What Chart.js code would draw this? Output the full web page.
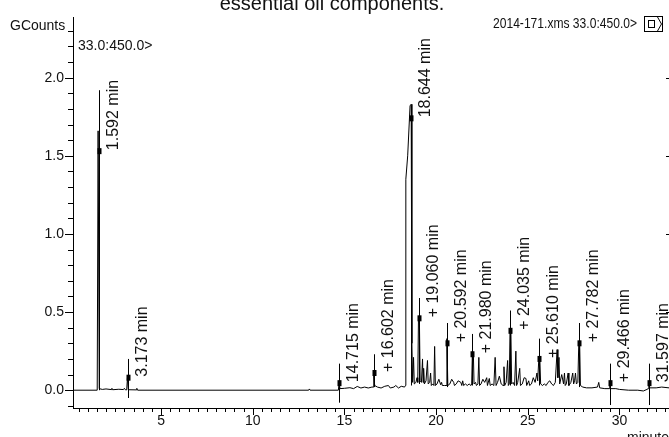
<!DOCTYPE html>
<html>
<head>
<meta charset="utf-8">
<title>essential oil components</title>
<script src="https://cdn.jsdelivr.net/npm/chart.js@4.4.1/dist/chart.umd.min.js"></script>
<style>
  html, body { margin: 0; padding: 0; background: #fff; overflow: hidden; }
  #wrap { position: relative; width: 669px; height: 437px; }
</style>
</head>
<body>
<div id="wrap"><canvas id="chromChart" width="669" height="437"></canvas></div>
<script>
// Retention time (minutes) and signal (GCounts)
const times = [
  0.2, 1.52, 1.57, 1.63, 1.80, 2.00, 2.28, 2.32, 2.36, 2.70, 2.95, 3.00, 3.05,
  3.13, 3.17, 3.22, 3.64, 3.68, 3.72, 13.05, 13.09, 13.13, 14.67, 14.71, 14.76,
  15.0, 15.3, 15.5, 15.7, 15.9, 16.1, 16.3, 16.5, 16.56, 16.60, 16.65, 16.8,
  17.0, 17.2, 17.4, 17.5, 17.7, 17.8, 17.95, 18.1, 18.28, 18.33, 18.35, 18.45,
  18.58, 18.64, 18.68, 18.72, 18.77, 18.81, 18.9, 18.96, 19.0, 19.04, 19.09,
  19.13, 19.2, 19.26, 19.29, 19.32, 19.36, 19.45, 19.53, 19.57, 19.65, 19.70,
  19.74, 19.82, 19.88, 19.92, 19.96, 20.05, 20.15, 20.25, 20.30, 20.34, 20.45,
  20.54, 20.59, 20.64, 20.75, 20.85, 20.96, 21.0, 21.1, 21.2, 21.35, 21.4,
  21.45, 21.5, 21.6, 21.7, 21.8, 21.9, 21.94, 21.98, 22.03, 22.07, 22.15, 22.2,
  22.28, 22.33, 22.37, 22.45, 22.55, 22.65, 22.76, 22.8, 22.9, 22.95, 23.05,
  23.15, 23.22, 23.27, 23.35, 23.45, 23.55, 23.65, 23.70, 23.74, 23.82, 23.90,
  23.94, 23.99, 24.03, 24.08, 24.12, 24.2, 24.28, 24.35, 24.39, 24.45, 24.56,
  24.6, 24.7, 24.8, 24.9, 24.94, 25.05, 25.1, 25.2, 25.3, 25.4, 25.5, 25.54,
  25.6, 25.66, 25.7, 25.8, 25.9, 26.0, 26.1, 26.2, 26.3, 26.4, 26.5, 26.6,
  26.64, 26.7, 26.74, 26.85, 26.95, 27.0, 27.04, 27.1, 27.2, 27.24, 27.35,
  27.45, 27.5, 27.55, 27.6, 27.65, 27.73, 27.78, 27.83, 27.87, 28.0, 28.2,
  28.5, 28.8, 28.87, 28.92, 29.2, 29.43, 29.47, 29.52, 29.8, 30.0, 30.5, 31.0,
  31.3, 31.5, 31.56, 31.60, 31.64, 32.0, 32.3, 32.7
];
const counts = [
  0, 0, 1.66, 0.01, 0.005, 0.008, 0.004, 0.012, 0.003, 0.006, 0.004, 0.012, 0.003,
  0.002, 0.08, 0.003, 0.002, 0.012, 0, 0, 0.008, 0, 0, 0.045, 0.01,
  0.012, 0.016, 0.01, 0.024, 0.014, 0.02, 0.014, 0.02, 0.02, 0.11, 0.03, 0.02,
  0.014, 0.025, 0.03, 0.014, 0.02, 0.03, 0.014, 0.025, 0.02, 0.03, 1.35, 1.50,
  1.82, 1.83, 0.30, 0.05, 0.21, 0.04, 0.05, 0.08, 0.05, 0.47, 0.45,
  0.06, 0.05, 0.20, 0.05, 0.14, 0.04, 0.06, 0.19, 0.04, 0.05, 0.11,
  0.03, 0.04, 0.03, 0.28, 0.03, 0.04, 0.07, 0.035, 0.05, 0.03, 0.03,
  0.03, 0.33, 0.03, 0.04, 0.07, 0.05, 0.03, 0.04, 0.06, 0.05, 0.03,
  0.06, 0.03, 0.04, 0.03, 0.04, 0.03, 0.04, 0.25, 0.24, 0.04, 0.05, 0.03,
  0.04, 0.21, 0.03, 0.04, 0.07, 0.05, 0.08, 0.03, 0.075, 0.03, 0.04,
  0.03, 0.21, 0.03, 0.05, 0.09, 0.04, 0.03, 0.15, 0.03, 0.05, 0.19,
  0.03, 0.04, 0.38, 0.36, 0.04, 0.05, 0.03, 0.25, 0.03, 0.05, 0.14,
  0.03, 0.04, 0.08, 0.075, 0.03, 0.06, 0.03, 0.04, 0.08, 0.05, 0.11, 0.06,
  0.20, 0.19, 0.04, 0.03, 0.04, 0.03, 0.05, 0.06, 0.04, 0.03, 0.05, 0.26,
  0.08, 0.21, 0.04, 0.10, 0.04, 0.11, 0.03, 0.04, 0.11, 0.03, 0.05,
  0.11, 0.04, 0.06, 0.11, 0.04, 0.05, 0.30, 0.29, 0.03, 0.02, 0.015,
  0.015, 0.02, 0.05, 0.015, 0.01, 0.01, 0.045, 0.01, 0.01, 0.005, 0, 0,
  -0.005, 0.005, 0.01, 0.045, 0.015, 0.015, 0.02, 0.015
];

// Labelled peaks: time, text, marker height, label line top / bottom (GCounts)
const peakTimes = [1.592, 3.173, 14.715, 16.602, 18.644, 19.060, 20.592, 21.980, 24.035, 25.610, 27.782, 29.466, 31.597];
const peakLabels = ['1.592 min', '3.173 min', '14.715 min', '+ 16.602 min', '18.644 min', '+ 19.060 min',
  '+ 20.592 min', '+ 21.980 min', '+ 24.035 min', '+ 25.610 min', '+ 27.782 min', '+ 29.466 min', '31.597 min'];
const peakMarks = [1.53, 0.08, 0.045, 0.11, 1.74, 0.46, 0.30, 0.23, 0.38, 0.20, 0.30, 0.045, 0.045];
const peakTops = [1.92, 0.20, 0.17, 0.23, 1.82, 0.59, 0.43, 0.36, 0.51, 0.33, 0.43, 0.17, 0.17];
const peakBottoms = [0, -0.05, -0.08, 0.02, 0.03, 0.04, 0.02, 0.03, 0.03, 0.03, 0.02, -0.095, -0.095];

// Axis tick labels
const xMajorTicks = [5, 10, 15, 20, 25, 30];
const yMajorTicks = [0, 0.5, 1.0, 1.5, 2.0];

const FONT = "'Liberation Sans', Arial, sans-serif";

// Draws minor/major tick marks, peak annotations and header texts
const decorPlugin = {
    id: 'decor',
    afterDraw(chart) {
        const ctx = chart.ctx;
        const xs = chart.scales.x;
        const ys = chart.scales.y;
        const area = chart.chartArea;
        ctx.save();
        ctx.strokeStyle = '#000';
        ctx.fillStyle = '#000';
        ctx.lineWidth = 1;

        // y axis ticks every 0.1, longer at labels
        ctx.beginPath();
        for (let i = -1; i <= 23; i++) {
            const py = Math.round(ys.getPixelForValue(i / 10)) + 0.5;
            const len = (i % 5 === 0) ? 8 : 5;
            ctx.moveTo(area.left - len, py);
            ctx.lineTo(area.left, py);
        }
        // x axis ticks every 0.5 min
        for (let i = 1; i <= 65; i++) {
            const px = Math.round(xs.getPixelForValue(i / 2)) + 0.5;
            const len = (i % 10 === 0) ? 7 : 4;
            ctx.moveTo(px, area.bottom);
            ctx.lineTo(px, area.bottom + len);
        }
        // small marks on the right edge
        yMajorTicks.slice(1).forEach(v => {
            const py = Math.round(ys.getPixelForValue(v)) + 0.5;
            ctx.moveTo(666, py);
            ctx.lineTo(669, py);
        });
        ctx.stroke();

        // peak annotations
        ctx.font = '16px ' + FONT;
        peakTimes.forEach((t, i) => {
            const px = Math.round(xs.getPixelForValue(t)) + 0.5;
            const yTop = ys.getPixelForValue(peakTops[i]);
            const yBot = ys.getPixelForValue(peakBottoms[i]);
            const yMark = ys.getPixelForValue(peakMarks[i]);
            ctx.beginPath();
            ctx.moveTo(px, yBot);
            ctx.lineTo(px, yTop);
            ctx.stroke();
            ctx.fillRect(px - 2, yMark - 3, 4, 6);
            ctx.save();
            ctx.translate(px + 18, yMark - 1);
            ctx.rotate(-Math.PI / 2);
            ctx.textAlign = 'left';
            ctx.textBaseline = 'alphabetic';
            ctx.fillStyle = '#111';
            ctx.fillText(peakLabels[i], 0, 0);
            ctx.restore();
        });

        // header texts
        ctx.fillStyle = '#111';
        ctx.textBaseline = 'alphabetic';
        ctx.font = '20px ' + FONT;
        ctx.textAlign = 'center';
        ctx.fillText('essential oil components.', 332, 10);
        ctx.textAlign = 'left';
        ctx.font = '14px ' + FONT;
        ctx.fillText('GCounts', 10, 30);
        ctx.fillText('33.0:450.0>', 78, 50);
        ctx.fillText('minutes', 627, 442);

        // file header, squeezed into the same width as the original
        const fileText = '2014-171.xms 33.0:450.0>';
        const w = ctx.measureText(fileText).width;
        ctx.save();
        ctx.translate(493, 28);
        ctx.scale(144 / w, 1);
        ctx.fillText(fileText, 0, 0);
        ctx.restore();

        // little window icon in the corner
        ctx.strokeRect(644.5, 16.5, 18, 15);
        ctx.strokeRect(648.5, 20.5, 6, 7);
        ctx.beginPath();
        ctx.moveTo(657.5, 17);
        ctx.lineTo(661.5, 24);
        ctx.lineTo(657.5, 31);
        ctx.stroke();
        ctx.restore();
    }
};

const ctx = document.getElementById('chromChart').getContext('2d');
const chromChart = new Chart(ctx, {
    type: 'line',
    data: {
        datasets: [{
            label: 'TIC',
            data: times.map((t, i) => ({ x: t, y: counts[i] })),
            borderColor: '#000',
            borderWidth: 1,
            pointRadius: 0,
            tension: 0,
            fill: false
        }]
    },
    options: {
        responsive: false,
        animation: false,
        events: [],
        layout: {
            padding: { top: 13, right: 0, left: 0, bottom: 0 }
        },
        plugins: {
            legend: { display: false },
            tooltip: { enabled: false }
        },
        scales: {
            x: {
                type: 'linear',
                min: 0.2,
                max: 32.7,
                afterBuildTicks: s => { s.ticks = xMajorTicks.map(v => ({ value: v })); },
                afterFit: s => { s.height = 29; },
                grid: { display: true, drawOnChartArea: false, drawTicks: false },
                border: { display: true, color: '#000', width: 1 },
                ticks: {
                    color: '#111',
                    font: { family: FONT, size: 14 },
                    padding: 5,
                    maxRotation: 0,
                    autoSkip: false,
                    callback: v => v
                }
            },
            y: {
                type: 'linear',
                min: -0.114,
                max: 2.386,
                afterBuildTicks: s => { s.ticks = yMajorTicks.map(v => ({ value: v })); },
                afterFit: s => { s.width = 73; },
                grid: { display: true, drawOnChartArea: false, drawTicks: false },
                border: { display: true, color: '#000', width: 1 },
                ticks: {
                    color: '#111',
                    font: { family: FONT, size: 14 },
                    padding: 9,
                    autoSkip: false,
                    callback: v => v.toFixed(1)
                }
            }
        }
    },
    plugins: [decorPlugin]
});
</script>
</body>
</html>
